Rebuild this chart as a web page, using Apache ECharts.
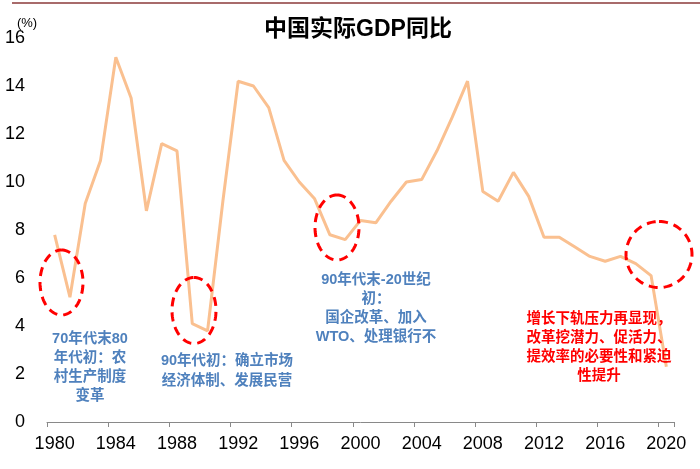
<!DOCTYPE html>
<html>
<head>
<meta charset="utf-8">
<script src="https://cdn.jsdelivr.net/npm/echarts@6/dist/echarts.min.js"></script>
<style>
html,body{margin:0;padding:0;background:#fff;}
#c{width:700px;height:469px;}
</style>
</head>
<body>
<div id="c"></div>
<script>
const years = ['1980','1981','1982','1983','1984','1985','1986','1987','1988','1989',
  '1990','1991','1992','1993','1994','1995','1996','1997','1998','1999',
  '2000','2001','2002','2003','2004','2005','2006','2007','2008','2009',
  '2010','2011','2012','2013','2014','2015','2016','2017','2018','2019','2020'];
const gdpYoY = [7.8,5.2,9.1,10.9,15.2,13.5,8.8,11.6,11.3,4.1,
  3.8,9.2,14.2,14.0,13.1,10.9,10.0,9.3,7.8,7.6,
  8.4,8.3,9.2,10.0,10.1,11.3,12.7,14.2,9.6,9.2,
  10.4,9.4,7.7,7.7,7.3,6.9,6.7,6.9,6.6,6.1,2.3];
const titleText = '中国实际GDP同比';
const unitText = '(%)';
const notes = [
  {text:'70年代末80\n年代初：农\n村生产制度\n变革', x:90, y:329, color:'#4F81BD', lh:19},
  {text:'90年代初：确立市场\n经济体制、发展民营', x:227, y:351, color:'#4F81BD', lh:20},
  {text:'90年代末-20世纪\n初：\n国企改革、加入\nWTO、处理银行不', x:376, y:270, color:'#4F81BD', lh:19},
  {text:'增长下轨压力再显现，\n改革挖潜力、促活力、\n提效率的必要性和紧迫\n性提升', x:599, y:309, color:'#FF0000', lh:19}
];
const ellipses = [
  {cx:61.5, cy:282.5, rx:21.5, ry:32.5},
  {cx:194, cy:310.5, rx:22, ry:33},
  {cx:337, cy:227.5, rx:22, ry:32.5},
  {cx:659, cy:254.5, rx:33, ry:33}
];

function ellipsePts(e){
  const pts=[];
  for(let i=0;i<=96;i++){
    const a = -Math.PI/2 + i/96*Math.PI*2;
    pts.push([e.cx+e.rx*Math.cos(a), e.cy+e.ry*Math.sin(a)]);
  }
  return pts;
}

const chart = echarts.init(document.getElementById('c'));
const graphics = [
  {type:'line', shape:{x1:12,y1:3,x2:700,y2:3}, style:{stroke:'#8B3A3A', lineWidth:1.5}, silent:true},
  {type:'text', style:{text:titleText, x:358, y:30, textAlign:'center', textVerticalAlign:'middle', align:'center', verticalAlign:'middle',
    font:"bold 23px 'Liberation Sans','Noto Sans CJK SC'", fill:'#000'}},
  {type:'text', style:{text:unitText, x:27, y:23, textAlign:'center', textVerticalAlign:'middle', align:'center', verticalAlign:'middle',
    font:"13px 'Liberation Sans'", fill:'#000'}}
];
ellipses.forEach(e=>{
  graphics.push({type:'polyline', shape:{points:ellipsePts(e)}, z:100,
    style:{stroke:'#FF0000', lineWidth:3, lineDash:[9,6], fill:null}});
});
notes.forEach(n=>{
  graphics.push({type:'text', z:100, style:{text:n.text, x:n.x, y:n.y, textAlign:'center', align:'center',
    textVerticalAlign:'top', verticalAlign:'top', lineHeight:n.lh,
    font:"bold 14.5px 'Liberation Sans','Noto Sans CJK SC'", fill:n.color}});
});

chart.setOption({
  animation:false,
  backgroundColor:'#fff',
  grid:{left:47, right:26, top:38, bottom:47},
  xAxis:{
    type:'category', data:years, boundaryGap:true,
    axisLine:{show:true, lineStyle:{color:'#898989', width:1}},
    axisTick:{show:true, interval:3, length:5, alignWithLabel:false, lineStyle:{color:'#898989'}},
    axisLabel:{interval:3, fontSize:18, color:'#000', margin:13, fontFamily:'Liberation Sans'},
    splitLine:{show:false}
  },
  yAxis:{
    type:'value', min:0, max:16, interval:2,
    axisLine:{show:false}, axisTick:{show:false}, splitLine:{show:false},
    axisLabel:{fontSize:18, color:'#000', margin:22, fontFamily:'Liberation Sans'}
  },
  series:[{
    type:'line', data:gdpYoY, showSymbol:false, smooth:false,
    lineStyle:{color:'#FAC090', width:3}, itemStyle:{color:'#FAC090'}
  }],
  graphic:graphics
});
</script>
</body>
</html>
